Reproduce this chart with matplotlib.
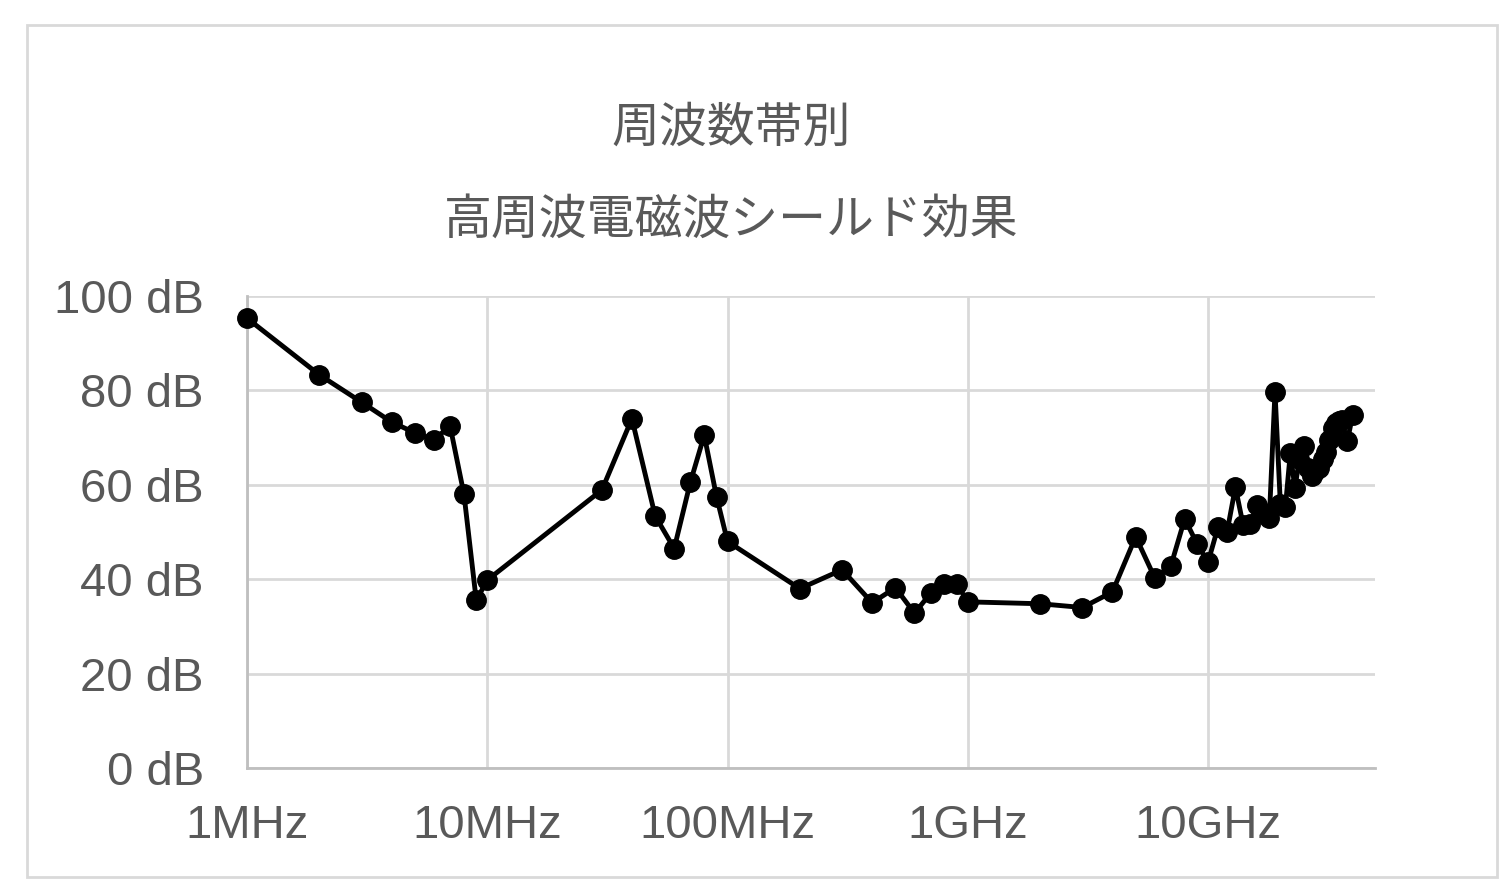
import numpy as np
import matplotlib
matplotlib.use('Agg')
import matplotlib.pyplot as plt
from matplotlib.patches import Rectangle
from matplotlib.ticker import FixedLocator, NullLocator

# frequency in MHz, shielding in dB
freq_mhz = [1, 2, 3, 4, 5, 6, 7, 8, 9, 10,
            30, 40, 50, 60, 70, 80, 90, 100,
            200, 300, 400, 500, 600, 700, 800, 900, 1000,
            2000, 3000, 4000, 5000, 6000, 7000, 8000, 9000, 10000,
            11000, 12000, 13000, 14000, 15000, 16000, 17000, 18000, 19000, 20000,
            21000, 22000, 23000, 24000, 25000, 26000, 27000, 28000, 29000, 30000,
            31000, 32000, 33000, 34000, 35000, 36000, 38000, 40000]
shield_db = [95.3, 83.3, 77.5, 73.3, 71.0, 69.5, 72.5, 58.0, 35.5, 39.8,
             58.9, 74.0, 53.4, 46.5, 60.5, 70.5, 57.5, 48.0,
             38.0, 42.0, 35.0, 38.2, 32.8, 37.0, 39.0, 39.0, 35.2,
             34.8, 34.0, 37.3, 49.0, 40.3, 42.8, 52.8, 47.5, 43.6,
             51.0, 50.0, 59.5, 51.5, 51.8, 55.7, 54.0, 53.0, 79.7, 56.0,
             55.4, 66.7, 59.3, 65.5, 68.2, 63.5, 61.8, 63.0, 63.5, 65.5,
             67.0, 69.5, 72.0, 73.0, 73.5, 73.8, 69.2, 74.8]

x_ticks = [1, 10, 100, 1000, 10000]
x_labels = ['1MHz', '10MHz', '100MHz', '1GHz', '10GHz']
y_ticks = [0, 20, 40, 60, 80, 100]
y_labels = [f'{v} dB' for v in y_ticks]

title_lines = ['周波数帯別', '高周波電磁波シールド効果']

text_grey = '#595959'
grid_grey = '#d9d9d9'

fig = plt.figure(figsize=(15, 8.82), dpi=100)
ax = fig.add_axes([247 / 1500, 1 - 768 / 882, (1375 - 247) / 1500, (768 - 296) / 882])

ax.plot(freq_mhz, shield_db, color='black', linewidth=3.5, marker='o',
        markersize=14, markerfacecolor='black', markeredgecolor='black',
        zorder=3, clip_on=False)

ax.set_xscale('log')
ax.set_xlim(1, 10 ** 4.695)
ax.set_ylim(0, 100)

ax.xaxis.set_major_locator(FixedLocator(x_ticks))
ax.xaxis.set_minor_locator(NullLocator())
ax.set_xticklabels(x_labels)
ax.set_yticks(y_ticks)
ax.set_yticklabels(y_labels)

for lab in ax.get_xticklabels() + ax.get_yticklabels():
    lab.set_fontfamily(['Liberation Sans', 'DejaVu Sans'])
    lab.set_fontsize(34)
    lab.set_color(text_grey)

ax.tick_params(axis='both', length=0)
ax.tick_params(axis='y', pad=31)
ax.tick_params(axis='x', pad=26)

ax.grid(True, color=grid_grey, linewidth=2)
ax.set_axisbelow(True)
for side in ['top', 'right']:
    ax.spines[side].set_visible(False)
for side in ['left', 'bottom']:
    ax.spines[side].set_color('#bfbfbf')
    ax.spines[side].set_linewidth(2)

# chart titles
fig.text(731 / 1500, 1 - 128 / 882, title_lines[0], ha='center', va='center',
         fontsize=34.5, color=text_grey, family=['Noto Sans CJK JP', 'DejaVu Sans'])
fig.text(731 / 1500, 1 - 220 / 882, title_lines[1], ha='center', va='center',
         fontsize=34.5, color=text_grey, family=['Noto Sans CJK JP', 'DejaVu Sans'])

# chart border
fig.patches.append(Rectangle((27 / 1500, 1 - 877 / 882), 1470 / 1500, 852 / 882,
                             transform=fig.transFigure, fill=False,
                             edgecolor=grid_grey, linewidth=2))

fig.savefig('out.png', dpi=100)
